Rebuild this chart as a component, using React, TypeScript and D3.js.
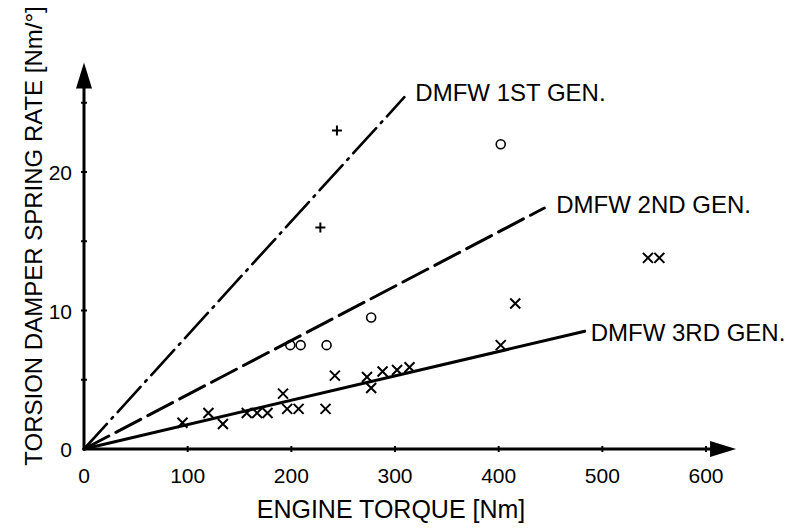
import React from 'react';
import * as d3 from 'd3';

// data
const gen1Torque = [228, 244];
const gen1Rate = [16.0, 23.0];

const gen2Torque = [199, 209, 234, 277, 402];
const gen2Rate = [7.5, 7.5, 7.5, 9.5, 22.0];

const gen3Torque = [95, 120, 134, 157, 167, 177, 192, 196, 207, 233, 242, 273, 277, 288, 302, 314, 402, 416, 544, 555];
const gen3Rate = [1.9, 2.6, 1.8, 2.6, 2.6, 2.6, 4.0, 2.9, 2.9, 2.9, 5.3, 5.2, 4.4, 5.6, 5.7, 5.9, 7.5, 10.5, 13.8, 13.8];

// trend lines: end point of each line (they all start at the origin)
const trendNames = ['DMFW 1ST GEN.', 'DMFW 2ND GEN.', 'DMFW 3RD GEN.'];
const trendEndTorque = [309, 444, 483];
const trendEndRate = [25.4, 17.4, 8.5];

const xTicks = [0, 100, 200, 300, 400, 500, 600];
const yTickLabels = [0, 10, 20];
const yTickMarks = [5, 10, 15, 20, 25];

const W = 793;
const H = 528;
const FONT = '"Liberation Sans", Arial, Helvetica, sans-serif';

export default function App() {
  const x = d3.scaleLinear().domain([0, 600]).range([84, 706]);
  const y = d3.scaleLinear().domain([0, 20]).range([449, 172]);

  const x0 = x(0);
  const y0 = y(0);
  const xEnd = x(629);
  const yEnd = y(27.9);

  const line = d3.line<[number, number]>().x((d) => x(d[0])).y((d) => y(d[1]));

  const dashes = ['34 7 2 7', '28 8', null];
  const widths = [2.6, 3, 3];
  const labelDx = [11, 12, 6];
  const labelDy = [4, 5, 10];

  const cross = (cx: number, cy: number, i: number, s = 5) => (
    <path key={i} d={`M${cx - s},${cy - s}L${cx + s},${cy + s}M${cx - s},${cy + s}L${cx + s},${cy - s}`} stroke="#000" strokeWidth={2} />
  );
  const plus = (cx: number, cy: number, i: number, s = 5) => (
    <path key={i} d={`M${cx - s},${cy}L${cx + s},${cy}M${cx},${cy - s}L${cx},${cy + s}`} stroke="#000" strokeWidth={2} />
  );

  return (
    <svg width={W} height={H} style={{ position: 'absolute', left: 0, top: 0, background: '#fff' }} fontFamily={FONT}>
      {/* trend lines */}
      {trendNames.map((name, i) => (
        <g key={name}>
          <path
            d={line([[0, 0], [trendEndTorque[i], trendEndRate[i]]]) || ''}
            fill="none"
            stroke="#000"
            strokeWidth={widths[i]}
            strokeDasharray={dashes[i] || undefined}
            strokeLinecap="round"
          />
          <text
            x={x(trendEndTorque[i]) + labelDx[i]}
            y={y(trendEndRate[i]) + labelDy[i]}
            fontSize={24}
            fill="#000"
          >
            {name}
          </text>
        </g>
      ))}

      {/* axes */}
      <line x1={x0} y1={y0} x2={xEnd - 20} y2={y0} stroke="#000" strokeWidth={3} />
      <path d={`M${xEnd},${y0}L${xEnd - 26},${y0 - 8}L${xEnd - 26},${y0 + 8}Z`} fill="#000" />
      <line x1={x0} y1={y0 + 1.5} x2={x0} y2={yEnd + 20} stroke="#000" strokeWidth={3} />
      <path d={`M${x0},${yEnd}L${x0 - 8},${yEnd + 26}L${x0 + 8},${yEnd + 26}Z`} fill="#000" />

      {xTicks.filter((t) => t > 0).map((t) => (
        <line key={t} x1={x(t)} x2={x(t)} y1={y0 - 3} y2={y0 + 3} stroke="#000" strokeWidth={2} />
      ))}
      {yTickMarks.map((t) => (
        <line key={t} x1={x0 - 3} x2={x0 + 3} y1={y(t)} y2={y(t)} stroke="#000" strokeWidth={2} />
      ))}

      {xTicks.map((t) => (
        <text key={t} x={x(t)} y={483} textAnchor="middle" fontSize={21} fill="#000">
          {t}
        </text>
      ))}
      {yTickLabels.map((t) => (
        <text key={t} x={72} y={y(t) + 8} textAnchor="end" fontSize={21} fill="#000">
          {t}
        </text>
      ))}

      <text x={391} y={518} textAnchor="middle" fontSize={25} fill="#000">
        ENGINE TORQUE [Nm]
      </text>
      <text transform="translate(42,236) rotate(-90)" textAnchor="middle" fontSize={24} fill="#000">
        TORSION DAMPER SPRING RATE [Nm/°]
      </text>

      {/* markers */}
      {gen1Torque.map((t, i) => plus(x(t), y(gen1Rate[i]), i))}
      {gen2Torque.map((t, i) => (
        <circle key={i} cx={x(t)} cy={y(gen2Rate[i])} r={4.5} fill="none" stroke="#000" strokeWidth={1.6} />
      ))}
      {gen3Torque.map((t, i) => cross(x(t), y(gen3Rate[i]), i))}
    </svg>
  );
}
